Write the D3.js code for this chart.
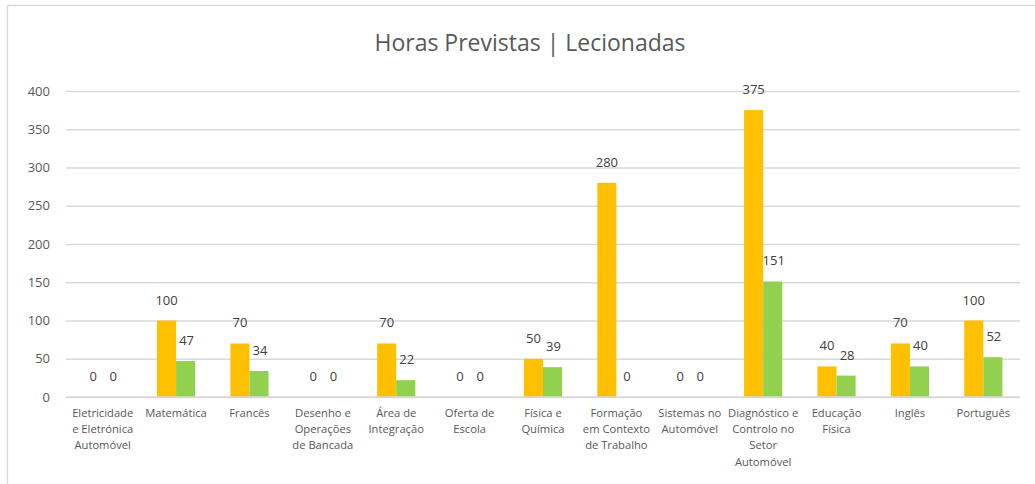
<!DOCTYPE html>
<html>
<head>
<meta charset="utf-8">
<script src="https://cdn.jsdelivr.net/npm/d3@7"></script>
<style>
  html, body { margin: 0; padding: 0; background: #fff; }
  svg { display: block; font-family: "Open Sans", "Noto Sans", sans-serif; }
</style>
</head>
<body>
<svg id="chart" width="1035" height="484"></svg>
<script>
// Subjects (line breaks mark the wrapped axis labels)
const categories = [
  "Eletricidade\ne Eletrónica\nAutomóvel",
  "Matemática",
  "Francês",
  "Desenho e\nOperações\nde Bancada",
  "Área de\nIntegração",
  "Oferta de\nEscola",
  "Física e\nQuímica",
  "Formação\nem Contexto\nde Trabalho",
  "Sistemas no\nAutomóvel",
  "Diagnóstico e\nControlo no\nSetor\nAutomóvel",
  "Educação\nFísica",
  "Inglês",
  "Português"
];
// Planned hours
const previstas = [0, 100, 70, 0, 70, 0, 50, 280, 0, 375, 40, 70, 100];
// Hours taught
const lecionadas = [0, 47, 34, 0, 22, 0, 39, 0, 0, 151, 28, 40, 52];
const yTicks = [0, 50, 100, 150, 200, 250, 300, 350, 400];
const seriesNames = ["Previstas", "Lecionadas"];
const seriesColors = ["#FFC000", "#92D050"];
const title = "Horas Previstas | Lecionadas";

const svg = d3.select("#chart");
const W = 1035, H = 484;
const plot = { left: 66, right: 1020, top: 91, bottom: 397 };

// chart area frame
svg.append("rect")
  .attr("x", 7.5).attr("y", 5.5)
  .attr("width", W + 10).attr("height", H + 10)
  .attr("fill", "#fff").attr("stroke", "#D9D9D9").attr("stroke-width", 1.5);

const x = d3.scaleBand().domain(d3.range(categories.length))
  .range([plot.left, plot.right]).paddingInner(0.48).paddingOuter(0.24);
const xs = d3.scaleBand().domain(d3.range(seriesNames.length))
  .range([0, x.bandwidth()]);
const y = d3.scaleLinear().domain([0, 400]).range([plot.bottom, plot.top]);

// gridlines
const yAxis = d3.axisLeft(y).tickValues(yTicks).tickSize(-(plot.right - plot.left)).tickPadding(16);
const gy = svg.append("g").attr("transform", `translate(${plot.left},0)`).call(yAxis);
gy.select(".domain").remove();
gy.selectAll(".tick line").attr("stroke", "#D9D9D9").attr("stroke-width", 1.3);
gy.selectAll(".tick text").attr("fill", "#595959").attr("font-size", 13).attr("font-family", "Open Sans");

// title
svg.append("text")
  .attr("x", 530).attr("y", 51)
  .attr("text-anchor", "middle")
  .attr("fill", "#595959")
  .attr("font-size", 23)
  .attr("font-weight", 400)
  .text(title);

// bars
const data = categories.map((c, i) => ({ i, values: [previstas[i], lecionadas[i]] }));
const groups = svg.append("g").selectAll("g").data(data).join("g")
  .attr("transform", d => `translate(${x(d.i)},0)`);

groups.selectAll("rect").data(d => d.values.map((v, s) => ({ v, s }))).join("rect")
  .attr("x", d => xs(d.s))
  .attr("width", xs.bandwidth())
  .attr("y", d => y(d.v))
  .attr("height", d => y(0) - y(d.v))
  .attr("fill", d => seriesColors[d.s]);

// value labels
groups.selectAll("text.val").data(d => d.values.map((v, s) => ({ v, s }))).join("text")
  .attr("class", "val")
  .attr("x", d => xs(d.s) + xs.bandwidth() / 2 + (d.s === 1 ? 1 : 0))
  .attr("y", d => y(d.v) - 16)
  .attr("text-anchor", "middle")
  .attr("fill", "#404040")
  .attr("font-size", 13)
  .text(d => d.v);

// baseline
svg.append("line")
  .attr("x1", plot.left).attr("x2", plot.right)
  .attr("y1", y(0)).attr("y2", y(0))
  .attr("stroke", "#D9D9D9").attr("stroke-width", 1.3);

// category labels
const cat = svg.append("g").selectAll("text").data(categories).join("text")
  .attr("x", (d, i) => x(i) + x.bandwidth() / 2)
  .attr("y", 417)
  .attr("text-anchor", "middle")
  .attr("fill", "#595959")
  .attr("font-size", 11.2);
cat.selectAll("tspan").data(d => d.split("\n")).join("tspan")
  .attr("x", function () { return d3.select(this.parentNode).attr("x"); })
  .attr("dy", (d, i) => i === 0 ? 0 : 16.2)
  .text(d => d);
</script>
</body>
</html>
